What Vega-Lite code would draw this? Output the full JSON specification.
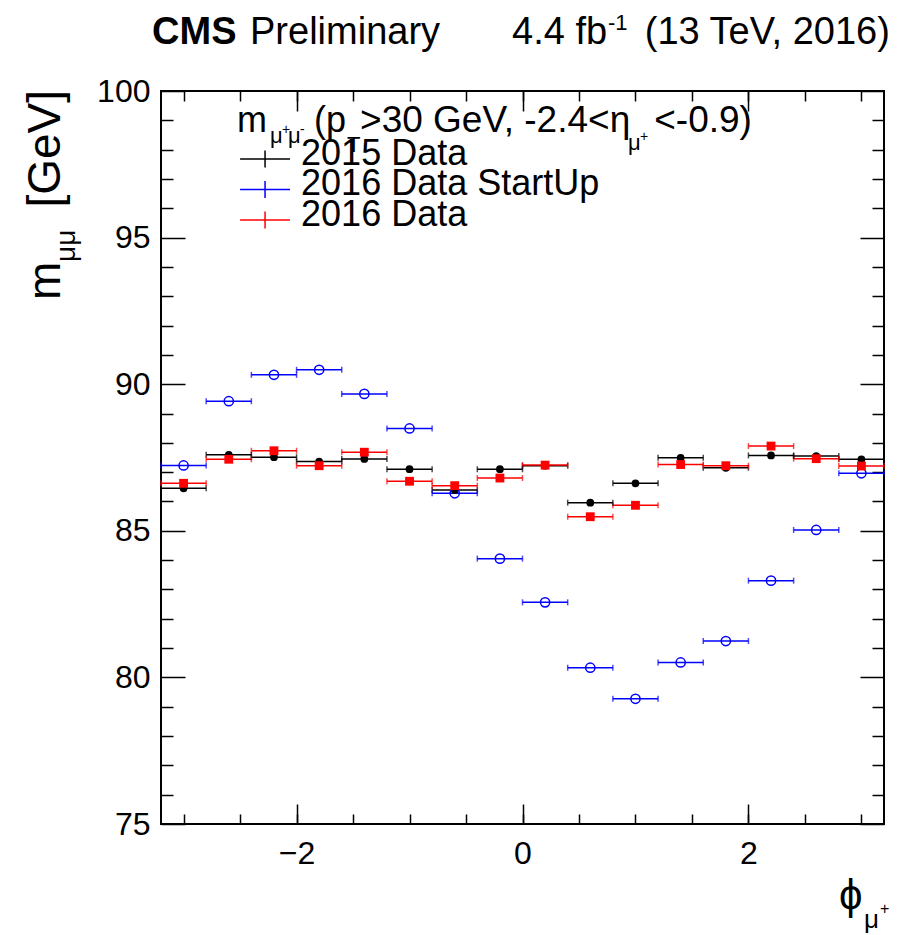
{
  "$schema": "https://vega.github.io/schema/vega-lite/v6.json",
  "width": 723,
  "height": 733,
  "autosize": {"type": "none"},
  "padding": {"left": 161, "top": 91, "right": 38, "bottom": 111},
  "background": "white",
  "config": {
    "view": {"stroke": "black", "strokeWidth": 2},
    "font": "Liberation Sans"
  },
  "datasets": {
    "mass_vs_phi": [
      {"series": "2015 Data", "phi": -3.0, "phi_lo": -3.2, "phi_hi": -2.8, "mass": 86.45},
      {"series": "2015 Data", "phi": -2.6, "phi_lo": -2.8, "phi_hi": -2.4, "mass": 87.59},
      {"series": "2015 Data", "phi": -2.2, "phi_lo": -2.4, "phi_hi": -2.0, "mass": 87.51},
      {"series": "2015 Data", "phi": -1.8, "phi_lo": -2.0, "phi_hi": -1.6, "mass": 87.36},
      {"series": "2015 Data", "phi": -1.4, "phi_lo": -1.6, "phi_hi": -1.2, "mass": 87.45},
      {"series": "2015 Data", "phi": -1.0, "phi_lo": -1.2, "phi_hi": -0.8, "mass": 87.10},
      {"series": "2015 Data", "phi": -0.6, "phi_lo": -0.8, "phi_hi": -0.4, "mass": 86.39},
      {"series": "2015 Data", "phi": -0.2, "phi_lo": -0.4, "phi_hi": 0.0, "mass": 87.10},
      {"series": "2015 Data", "phi": 0.2, "phi_lo": 0.0, "phi_hi": 0.4, "mass": 87.22},
      {"series": "2015 Data", "phi": 0.6, "phi_lo": 0.4, "phi_hi": 0.8, "mass": 85.96},
      {"series": "2015 Data", "phi": 1.0, "phi_lo": 0.8, "phi_hi": 1.2, "mass": 86.62},
      {"series": "2015 Data", "phi": 1.4, "phi_lo": 1.2, "phi_hi": 1.6, "mass": 87.49},
      {"series": "2015 Data", "phi": 1.8, "phi_lo": 1.6, "phi_hi": 2.0, "mass": 87.15},
      {"series": "2015 Data", "phi": 2.2, "phi_lo": 2.0, "phi_hi": 2.4, "mass": 87.57},
      {"series": "2015 Data", "phi": 2.6, "phi_lo": 2.4, "phi_hi": 2.8, "mass": 87.55},
      {"series": "2015 Data", "phi": 3.0, "phi_lo": 2.8, "phi_hi": 3.2, "mass": 87.44},
      {"series": "2016 Data StartUp", "phi": -3.0, "phi_lo": -3.2, "phi_hi": -2.8, "mass": 87.23},
      {"series": "2016 Data StartUp", "phi": -2.6, "phi_lo": -2.8, "phi_hi": -2.4, "mass": 89.42},
      {"series": "2016 Data StartUp", "phi": -2.2, "phi_lo": -2.4, "phi_hi": -2.0, "mass": 90.32},
      {"series": "2016 Data StartUp", "phi": -1.8, "phi_lo": -2.0, "phi_hi": -1.6, "mass": 90.49},
      {"series": "2016 Data StartUp", "phi": -1.4, "phi_lo": -1.6, "phi_hi": -1.2, "mass": 89.67},
      {"series": "2016 Data StartUp", "phi": -1.0, "phi_lo": -1.2, "phi_hi": -0.8, "mass": 88.49},
      {"series": "2016 Data StartUp", "phi": -0.6, "phi_lo": -0.8, "phi_hi": -0.4, "mass": 86.28},
      {"series": "2016 Data StartUp", "phi": -0.2, "phi_lo": -0.4, "phi_hi": 0.0, "mass": 84.05},
      {"series": "2016 Data StartUp", "phi": 0.2, "phi_lo": 0.0, "phi_hi": 0.4, "mass": 82.56},
      {"series": "2016 Data StartUp", "phi": 0.6, "phi_lo": 0.4, "phi_hi": 0.8, "mass": 80.33},
      {"series": "2016 Data StartUp", "phi": 1.0, "phi_lo": 0.8, "phi_hi": 1.2, "mass": 79.27},
      {"series": "2016 Data StartUp", "phi": 1.4, "phi_lo": 1.2, "phi_hi": 1.6, "mass": 80.51},
      {"series": "2016 Data StartUp", "phi": 1.8, "phi_lo": 1.6, "phi_hi": 2.0, "mass": 81.24},
      {"series": "2016 Data StartUp", "phi": 2.2, "phi_lo": 2.0, "phi_hi": 2.4, "mass": 83.30},
      {"series": "2016 Data StartUp", "phi": 2.6, "phi_lo": 2.4, "phi_hi": 2.8, "mass": 85.03},
      {"series": "2016 Data StartUp", "phi": 3.0, "phi_lo": 2.8, "phi_hi": 3.2, "mass": 86.96},
      {"series": "2016 Data", "phi": -3.0, "phi_lo": -3.2, "phi_hi": -2.8, "mass": 86.62},
      {"series": "2016 Data", "phi": -2.6, "phi_lo": -2.8, "phi_hi": -2.4, "mass": 87.44},
      {"series": "2016 Data", "phi": -2.2, "phi_lo": -2.4, "phi_hi": -2.0, "mass": 87.73},
      {"series": "2016 Data", "phi": -1.8, "phi_lo": -2.0, "phi_hi": -1.6, "mass": 87.22},
      {"series": "2016 Data", "phi": -1.4, "phi_lo": -1.6, "phi_hi": -1.2, "mass": 87.68},
      {"series": "2016 Data", "phi": -1.0, "phi_lo": -1.2, "phi_hi": -0.8, "mass": 86.69},
      {"series": "2016 Data", "phi": -0.6, "phi_lo": -0.8, "phi_hi": -0.4, "mass": 86.54},
      {"series": "2016 Data", "phi": -0.2, "phi_lo": -0.4, "phi_hi": 0.0, "mass": 86.80},
      {"series": "2016 Data", "phi": 0.2, "phi_lo": 0.0, "phi_hi": 0.4, "mass": 87.24},
      {"series": "2016 Data", "phi": 0.6, "phi_lo": 0.4, "phi_hi": 0.8, "mass": 85.48},
      {"series": "2016 Data", "phi": 1.0, "phi_lo": 0.8, "phi_hi": 1.2, "mass": 85.87},
      {"series": "2016 Data", "phi": 1.4, "phi_lo": 1.2, "phi_hi": 1.6, "mass": 87.26},
      {"series": "2016 Data", "phi": 1.8, "phi_lo": 1.6, "phi_hi": 2.0, "mass": 87.22},
      {"series": "2016 Data", "phi": 2.2, "phi_lo": 2.0, "phi_hi": 2.4, "mass": 87.89},
      {"series": "2016 Data", "phi": 2.6, "phi_lo": 2.4, "phi_hi": 2.8, "mass": 87.46},
      {"series": "2016 Data", "phi": 3.0, "phi_lo": 2.8, "phi_hi": 3.2, "mass": 87.21}
    ],
    "one": [{}]
  },
  "resolve": {"axis": {"x": "independent", "y": "independent"}},
  "layer": [
    {
      "data": {"name": "mass_vs_phi"},
      "mark": {"type": "rule", "strokeWidth": 1.5},
      "encoding": {
        "x": {
          "field": "phi_lo", "type": "quantitative",
          "scale": {"domain": [-3.2, 3.2], "nice": false, "zero": false},
          "axis": {"orient": "bottom", "values": [-2, 0, 2], "tickSize": -20, "tickWidth": 1.5, "tickColor": "black",
                   "domain": false, "grid": false, "title": null, "labelFontSize": 32, "labelColor": "black",
                   "labelPadding": 34, "labelFont": "Liberation Sans"}
        },
        "x2": {"field": "phi_hi"},
        "y": {
          "field": "mass", "type": "quantitative",
          "scale": {"domain": [75, 100], "nice": false, "zero": false},
          "axis": {"orient": "left", "values": [75, 80, 85, 90, 95, 100], "tickSize": -24, "tickWidth": 1.5, "tickColor": "black",
                   "domain": false, "grid": false, "title": null, "labelFontSize": 32, "labelColor": "black",
                   "labelPadding": 35, "labelFont": "Liberation Sans"}
        },
        "color": {
          "field": "series", "type": "nominal",
          "scale": {"domain": ["2015 Data", "2016 Data StartUp", "2016 Data"], "range": ["#000000", "#0000ff", "#ff0000"]},
          "legend": null
        }
      }
    },
    {
      "data": {"name": "mass_vs_phi"},
      "mark": {"type": "tick", "orient": "vertical", "size": 6, "thickness": 1.5},
      "encoding": {
        "x": {"field": "phi_lo", "type": "quantitative",
              "axis": {"orient": "bottom", "values": [-3, -2.5, -2, -1.5, -1, -0.5, 0, 0.5, 1, 1.5, 2, 2.5, 3],
                       "tickSize": -10, "tickWidth": 1.5, "tickColor": "black", "labels": false, "domain": false, "grid": false, "title": null}},
        "y": {"field": "mass", "type": "quantitative",
              "axis": {"orient": "left", "values": [76, 77, 78, 79, 81, 82, 83, 84, 86, 87, 88, 89, 91, 92, 93, 94, 96, 97, 98, 99],
                       "tickSize": -12, "tickWidth": 1.5, "tickColor": "black", "labels": false, "domain": false, "grid": false, "title": null}},
        "color": {"field": "series", "type": "nominal", "legend": null}
      }
    },
    {
      "data": {"name": "mass_vs_phi"},
      "mark": {"type": "tick", "orient": "vertical", "size": 6, "thickness": 1.5},
      "encoding": {
        "x": {"field": "phi_hi", "type": "quantitative",
              "axis": {"orient": "top", "values": [-2, 0, 2],
                       "tickSize": -20, "tickWidth": 1.5, "tickColor": "black", "labels": false, "domain": false, "grid": false, "title": null}},
        "y": {"field": "mass", "type": "quantitative",
              "axis": {"orient": "right", "values": [75, 80, 85, 90, 95, 100],
                       "tickSize": -24, "tickWidth": 1.5, "tickColor": "black", "labels": false, "domain": false, "grid": false, "title": null}},
        "color": {"field": "series", "type": "nominal", "legend": null}
      }
    },
    {
      "data": {"name": "mass_vs_phi"},
      "transform": [{"filter": "datum.series === '2015 Data'"}],
      "mark": {"type": "point", "shape": "circle", "filled": true, "color": "#000000", "size": 60, "opacity": 1},
      "encoding": {
        "x": {"field": "phi", "type": "quantitative",
              "axis": {"orient": "top", "values": [-3, -2.5, -2, -1.5, -1, -0.5, 0, 0.5, 1, 1.5, 2, 2.5, 3],
                       "tickSize": -10, "tickWidth": 1.5, "tickColor": "black", "labels": false, "domain": false, "grid": false, "title": null}},
        "y": {"field": "mass", "type": "quantitative",
              "axis": {"orient": "right", "values": [76, 77, 78, 79, 81, 82, 83, 84, 86, 87, 88, 89, 91, 92, 93, 94, 96, 97, 98, 99],
                       "tickSize": -12, "tickWidth": 1.5, "tickColor": "black", "labels": false, "domain": false, "grid": false, "title": null}}
      }
    },
    {
      "data": {"name": "mass_vs_phi"},
      "transform": [{"filter": "datum.series === '2016 Data StartUp'"}],
      "mark": {"type": "point", "shape": "circle", "filled": false, "color": "#0000ff", "size": 85, "strokeWidth": 1.5, "opacity": 1},
      "encoding": {
        "x": {"field": "phi", "type": "quantitative", "axis": null},
        "y": {"field": "mass", "type": "quantitative", "axis": null}
      }
    },
    {
      "data": {"name": "mass_vs_phi"},
      "transform": [{"filter": "datum.series === '2016 Data'"}],
      "mark": {"type": "point", "shape": "square", "filled": true, "color": "#ff0000", "size": 78, "opacity": 1},
      "encoding": {
        "x": {"field": "phi", "type": "quantitative", "axis": null},
        "y": {"field": "mass", "type": "quantitative", "axis": null}
      }
    },
    {
      "data": {"name": "one"},
      "mark": {"type": "rule", "strokeWidth": 1.5, "color": "#000000"},
      "encoding": {"x": {"datum": -2.5, "axis": null}, "x2": {"datum": -2.058}, "y": {"datum": 97.681, "axis": null}}
    },
    {
      "data": {"name": "one"},
      "mark": {"type": "rule", "strokeWidth": 1.5, "color": "#000000"},
      "encoding": {"x": {"datum": -2.279, "axis": null}, "y": {"datum": 97.971, "axis": null}, "y2": {"datum": 97.391}}
    },
    {
      "data": {"name": "one"},
      "mark": {"type": "text", "text": "2015 Data", "fontSize": 36, "align": "left", "baseline": "alphabetic", "color": "black"},
      "encoding": {"x": {"datum": -1.96, "axis": null}, "y": {"datum": 97.476, "axis": null}}
    },
    {
      "data": {"name": "one"},
      "mark": {"type": "rule", "strokeWidth": 1.5, "color": "#0000ff"},
      "encoding": {"x": {"datum": -2.5, "axis": null}, "x2": {"datum": -2.058}, "y": {"datum": 96.641, "axis": null}}
    },
    {
      "data": {"name": "one"},
      "mark": {"type": "rule", "strokeWidth": 1.5, "color": "#0000ff"},
      "encoding": {"x": {"datum": -2.279, "axis": null}, "y": {"datum": 96.93, "axis": null}, "y2": {"datum": 96.351}}
    },
    {
      "data": {"name": "one"},
      "mark": {"type": "text", "text": "2016 Data StartUp", "fontSize": 36, "align": "left", "baseline": "alphabetic", "color": "black"},
      "encoding": {"x": {"datum": -1.96, "axis": null}, "y": {"datum": 96.436, "axis": null}}
    },
    {
      "data": {"name": "one"},
      "mark": {"type": "rule", "strokeWidth": 1.5, "color": "#ff0000"},
      "encoding": {"x": {"datum": -2.5, "axis": null}, "x2": {"datum": -2.058}, "y": {"datum": 95.6, "axis": null}}
    },
    {
      "data": {"name": "one"},
      "mark": {"type": "rule", "strokeWidth": 1.5, "color": "#ff0000"},
      "encoding": {"x": {"datum": -2.279, "axis": null}, "y": {"datum": 95.89, "axis": null}, "y2": {"datum": 95.31}}
    },
    {
      "data": {"name": "one"},
      "mark": {"type": "text", "text": "2016 Data", "fontSize": 36, "align": "left", "baseline": "alphabetic", "color": "black"},
      "encoding": {"x": {"datum": -1.96, "axis": null}, "y": {"datum": 95.395, "axis": null}}
    },
    {
      "data": {"name": "one"},
      "mark": {"type": "text", "text": "CMS", "fontSize": 38, "fontWeight": "bold", "align": "left", "baseline": "alphabetic", "color": "black"},
      "encoding": {"x": {"datum": -3.279, "axis": null}, "y": {"datum": 101.603, "axis": null}}
    },
    {
      "data": {"name": "one"},
      "mark": {"type": "text", "text": "Preliminary", "fontSize": 38, "align": "left", "baseline": "alphabetic", "color": "black"},
      "encoding": {"x": {"datum": -2.412, "axis": null}, "y": {"datum": 101.603, "axis": null}}
    },
    {
      "data": {"name": "one"},
      "mark": {"type": "text", "text": "4.4 fb", "fontSize": 38, "align": "left", "baseline": "alphabetic", "color": "black"},
      "encoding": {"x": {"datum": -0.093, "axis": null}, "y": {"datum": 101.603, "axis": null}}
    },
    {
      "data": {"name": "one"},
      "mark": {"type": "text", "text": "-1", "fontSize": 22, "align": "left", "baseline": "alphabetic", "color": "black"},
      "encoding": {"x": {"datum": 0.756, "axis": null}, "y": {"datum": 102.08, "axis": null}}
    },
    {
      "data": {"name": "one"},
      "mark": {"type": "text", "text": "(13 TeV, 2016)", "fontSize": 38, "align": "right", "baseline": "alphabetic", "color": "black"},
      "encoding": {"x": {"datum": 3.252, "axis": null}, "y": {"datum": 101.603, "axis": null}}
    },
    {
      "data": {"name": "one"},
      "mark": {"type": "text", "text": "m", "fontSize": 46, "angle": -90, "align": "left", "baseline": "alphabetic", "color": "black"},
      "encoding": {"x": {"datum": -4.093, "axis": null}, "y": {"datum": 92.872, "axis": null}}
    },
    {
      "data": {"name": "one"},
      "mark": {"type": "text", "text": "μμ", "fontSize": 28, "angle": -90, "align": "left", "baseline": "alphabetic", "color": "black"},
      "encoding": {"x": {"datum": -3.96, "axis": null}, "y": {"datum": 94.168, "axis": null}}
    },
    {
      "data": {"name": "one"},
      "mark": {"type": "text", "text": "[GeV]", "fontSize": 46, "angle": -90, "align": "right", "baseline": "alphabetic", "color": "black"},
      "encoding": {"x": {"datum": -4.093, "axis": null}, "y": {"datum": 100.034, "axis": null}}
    },
    {
      "data": {"name": "one"},
      "mark": {"type": "text", "text": "ϕ", "fontSize": 42, "align": "left", "baseline": "alphabetic", "color": "black"},
      "encoding": {"x": {"datum": 2.801, "axis": null}, "y": {"datum": 72.101, "axis": null}}
    },
    {
      "data": {"name": "one"},
      "mark": {"type": "text", "text": "μ", "fontSize": 26, "align": "left", "baseline": "alphabetic", "color": "black"},
      "encoding": {"x": {"datum": 3.022, "axis": null}, "y": {"datum": 71.453, "axis": null}}
    },
    {
      "data": {"name": "one"},
      "mark": {"type": "text", "text": "+", "fontSize": 16, "align": "left", "baseline": "alphabetic", "color": "black"},
      "encoding": {"x": {"datum": 3.164, "axis": null}, "y": {"datum": 71.931, "axis": null}}
    },
    {
      "data": {"name": "one"},
      "mark": {"type": "text", "text": "m", "fontSize": 36, "align": "left", "baseline": "alphabetic", "color": "black"},
      "encoding": {"x": {"datum": -2.527, "axis": null}, "y": {"datum": 98.602, "axis": null}}
    },
    {
      "data": {"name": "one"},
      "mark": {"type": "text", "text": "μ", "fontSize": 22, "align": "left", "baseline": "alphabetic", "color": "black"},
      "encoding": {"x": {"datum": -2.235, "axis": null}, "y": {"datum": 98.226, "axis": null}}
    },
    {
      "data": {"name": "one"},
      "mark": {"type": "text", "text": "+", "fontSize": 14, "align": "left", "baseline": "alphabetic", "color": "black"},
      "encoding": {"x": {"datum": -2.129, "axis": null}, "y": {"datum": 98.533, "axis": null}}
    },
    {
      "data": {"name": "one"},
      "mark": {"type": "text", "text": "μ", "fontSize": 22, "align": "left", "baseline": "alphabetic", "color": "black"},
      "encoding": {"x": {"datum": -2.076, "axis": null}, "y": {"datum": 98.226, "axis": null}}
    },
    {
      "data": {"name": "one"},
      "mark": {"type": "text", "text": "-", "fontSize": 14, "align": "left", "baseline": "alphabetic", "color": "black"},
      "encoding": {"x": {"datum": -1.969, "axis": null}, "y": {"datum": 98.533, "axis": null}}
    },
    {
      "data": {"name": "one"},
      "mark": {"type": "text", "text": "(p", "fontSize": 36, "align": "left", "baseline": "alphabetic", "color": "black"},
      "encoding": {"x": {"datum": -1.846, "axis": null}, "y": {"datum": 98.602, "axis": null}}
    },
    {
      "data": {"name": "one"},
      "mark": {"type": "text", "text": "T", "fontSize": 22, "align": "left", "baseline": "alphabetic", "color": "black"},
      "encoding": {"x": {"datum": -1.553, "axis": null}, "y": {"datum": 97.92, "axis": null}}
    },
    {
      "data": {"name": "one"},
      "mark": {"type": "text", "text": ">30 GeV, -2.4<η", "fontSize": 37, "align": "left", "baseline": "alphabetic", "color": "black"},
      "encoding": {"x": {"datum": -1.438, "axis": null}, "y": {"datum": 98.602, "axis": null}}
    },
    {
      "data": {"name": "one"},
      "mark": {"type": "text", "text": "μ", "fontSize": 22, "align": "left", "baseline": "alphabetic", "color": "black"},
      "encoding": {"x": {"datum": 0.934, "axis": null}, "y": {"datum": 97.988, "axis": null}}
    },
    {
      "data": {"name": "one"},
      "mark": {"type": "text", "text": "+", "fontSize": 14, "align": "left", "baseline": "alphabetic", "color": "black"},
      "encoding": {"x": {"datum": 1.04, "axis": null}, "y": {"datum": 98.295, "axis": null}}
    },
    {
      "data": {"name": "one"},
      "mark": {"type": "text", "text": "<-0.9)", "fontSize": 37, "align": "right", "baseline": "alphabetic", "color": "black"},
      "encoding": {"x": {"datum": 2.031, "axis": null}, "y": {"datum": 98.602, "axis": null}}
    }
  ]
}
